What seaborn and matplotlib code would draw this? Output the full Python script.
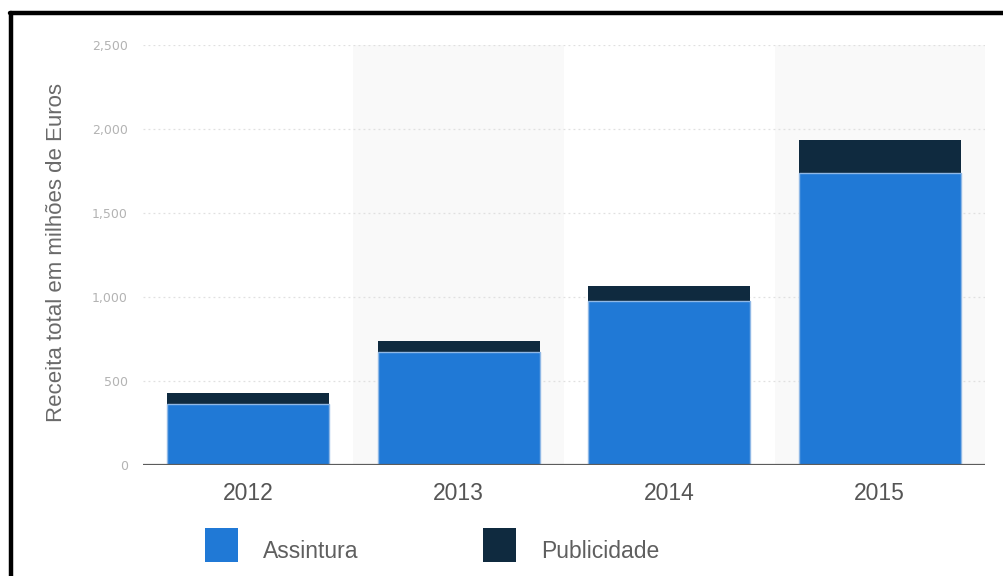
import matplotlib
matplotlib.use("Agg")
import matplotlib.pyplot as plt
from matplotlib.patches import Rectangle
from matplotlib.lines import Line2D
from matplotlib.ticker import FuncFormatter
import seaborn as sns
import pandas as pd

# Revenue in millions of euros
years = ["2012", "2013", "2014", "2015"]
assinatura = [365, 670, 975, 1740]
publicidade = [62, 70, 92, 195]
series_labels = ["Assintura", "Publicidade"]
yticks = [0, 500, 1000, 1500, 2000, 2500]

BLUE = "#2079d6"
NAVY = "#0f2a3f"

sns.set_theme(style="white")
plt.rcParams["font.family"] = ["Liberation Sans", "DejaVu Sans"]

df = pd.DataFrame({
    "ano": years,
    "assinatura": assinatura,
    "total": [a + p for a, p in zip(assinatura, publicidade)],
})

W, H = 1004, 576
fig = plt.figure(figsize=(W / 100, H / 100), dpi=100)
ax = fig.add_axes([0.1424, 0.1927, 0.9811 - 0.1424, 0.922 - 0.1927])

# Alternating background bands behind every second category
for i in range(len(years)):
    if i % 2 == 1:
        ax.axvspan(i - 0.5, i + 0.5, color="#f9f9f9", zorder=0, lw=0)

# Stacked bars: full total in navy, subscription share in blue on top of it
sns.barplot(data=df, x="ano", y="total", color=NAVY, saturation=1,
            width=0.77, ax=ax, zorder=2, edgecolor=NAVY, linewidth=0)
sns.barplot(data=df, x="ano", y="assinatura", color=BLUE, saturation=1,
            width=0.77, ax=ax, zorder=3, edgecolor="#8fb8e6", linewidth=1.0)

ax.set_xlim(-0.5, len(years) - 0.5)
ax.set_ylim(0, 2500)
ax.set_yticks(yticks)
ax.yaxis.set_major_formatter(FuncFormatter(lambda v, _: f"{int(v):,}"))

for y in yticks[1:]:
    ax.axhline(y, color="#e0e0e0", lw=0.9, ls=(0, (1.5, 2.5)), zorder=1)
ax.axhline(0, color="#5c5c5c", lw=1.6, zorder=4)

for side in ["top", "right", "left", "bottom"]:
    ax.spines[side].set_visible(False)

ax.tick_params(axis="y", length=0, pad=11, labelsize=9, labelcolor="#b3b3b3")
for lbl in ax.get_yticklabels():
    lbl.set_fontfamily("DejaVu Sans")
ax.tick_params(axis="x", length=0, pad=12, labelsize=16.5, labelcolor="#555555")

ax.set_xlabel("")
ax.set_ylabel("Receita total em milhões de Euros", fontsize=16, color="#6a6a6a")
ax.yaxis.set_label_coords(67 / W, 1 - 252 / H, transform=fig.transFigure)

# Legend row below the axis
legend_items = [(205, BLUE, series_labels[0]), (483, NAVY, series_labels[1])]
for x0, col, txt in legend_items:
    fig.add_artist(Rectangle((x0 / W, 1 - 562 / H), 33 / W, 34 / H,
                             transform=fig.transFigure, facecolor=col,
                             edgecolor="none"))
    fig.text((x0 + 58) / W, 1 - 551 / H, txt, fontsize=16.5, color="#5f5f5f",
             va="center", ha="left")

# Black frame around the chart (left and top edges)
fig.add_artist(Line2D([11.5 / W, 11.5 / W], [0, 1 - 12.5 / H],
                      transform=fig.transFigure, color="black", lw=3.2))
fig.add_artist(Line2D([10 / W, 1.0], [1 - 12.5 / H, 1 - 12.5 / H],
                      transform=fig.transFigure, color="black", lw=3.2))

fig.savefig("out.png", dpi=100)
